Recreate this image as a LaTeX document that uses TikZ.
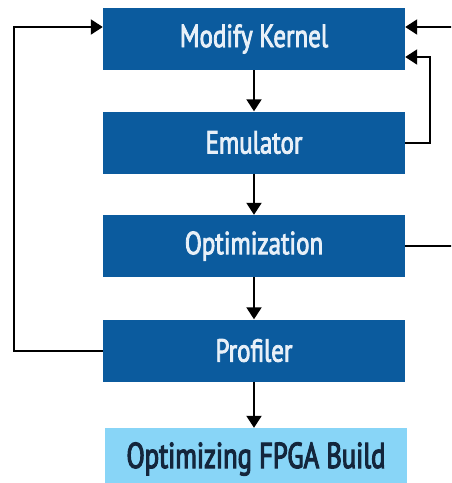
\documentclass[tikz,border=0pt]{standalone}
\usepackage{fontspec}
\setmainfont{PT Sans}[FakeStretch=0.80]
\newfontfamily\stepfont{PT Sans}[FakeStretch=0.78, FakeBold=2.6]
\newfontfamily\buildfont{PT Sans}[FakeStretch=0.74, FakeBold=3]
\usetikzlibrary{arrows.meta}
\definecolor{stepblue}{HTML}{0B5B9E}
\definecolor{buildblue}{HTML}{88D5F7}
\definecolor{steptext}{HTML}{E8F0F8}
\definecolor{buildtext}{HTML}{14263C}
\tikzset{
  stepbox/.style={fill=stepblue, text=steptext, minimum width=302pt, minimum height=62pt,
    inner sep=0pt, font=\stepfont\fontsize{32}{32}\selectfont},
  buildbox/.style={fill=buildblue, text=buildtext, minimum width=302pt, minimum height=62pt,
    inner sep=0pt, font=\buildfont\fontsize{36}{36}\selectfont},
  flow/.style={line width=2pt, -{Triangle[width=15pt,length=12pt]}},
}
\begin{document}
\begin{tikzpicture}[x=1pt, y=-1pt]
  \useasboundingbox (0,0) rectangle (451,483);
  \clip (0,0) rectangle (451,483);
  \node[stepbox] (kernel) at (254,39) {Modify Kernel};
  \node[stepbox] (emu) at (254,142.5) {Emulator};
  \node[stepbox] (opt) at (254,246) {Optimization};
  \node[stepbox] (prof) at (254,350.5) {Profiler};
  \node[buildbox] (build) at (256,459) {Optimizing FPGA Build};
  \draw[flow] (kernel) -- (emu);
  \draw[flow] (emu) -- (opt);
  \draw[flow] (opt) -- (prof);
  \draw[flow] (prof.south) -- (build.north -| prof.south);
  % profiler feeds back to the kernel along the left side
  \draw[flow] (prof.west) -| (14,27) -- (kernel.west |- 0,27);
  % emulator feeds back along the right side
  \draw[flow] (emu.east) -| (430,57) -- (kernel.east |- 0,57);
  % optimization feeds back along the outer right side
  \coordinate (outer) at (470,27);
  \draw[flow] (opt.east) -| (outer) -- (kernel.east |- 0,27);
\end{tikzpicture}
\end{document}
